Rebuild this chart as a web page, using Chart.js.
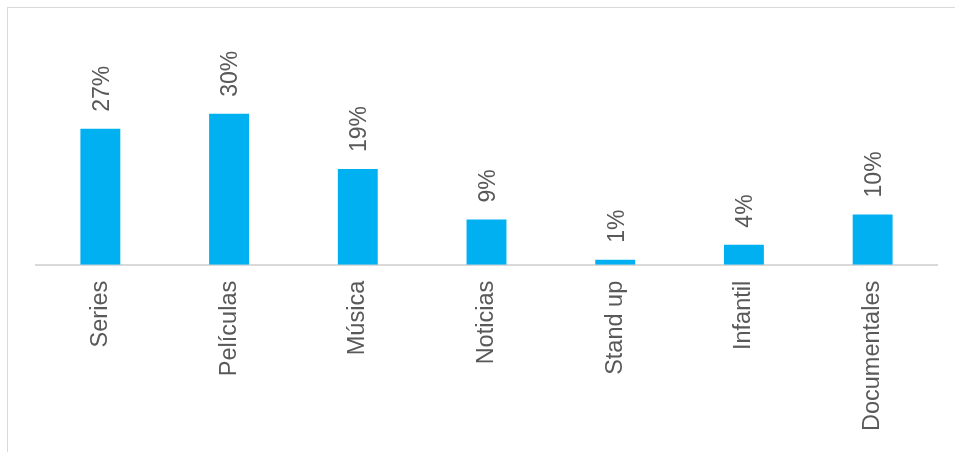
<!DOCTYPE html>
<html lang="es">
<head>
<meta charset="UTF-8">
<title>Contenido</title>
<script src="https://cdn.jsdelivr.net/npm/chart.js@4"></script>
<style>
  html, body { margin: 0; padding: 0; background: #fff; overflow: hidden; }
  #wrap { position: relative; width: 955px; height: 452px; }
  #frame { position: absolute; left: 7px; top: 7px; width: 960px; height: 460px; border: 1px solid #d9d9d9; box-sizing: border-box; }
  canvas { position: absolute; left: 0; top: 0; }
</style>
</head>
<body>
<div id="wrap">
  <div id="frame"></div>
  <canvas id="chart" width="955" height="452"></canvas>
</div>
<script>
const categories = ['Series', 'Películas', 'Música', 'Noticias', 'Stand up', 'Infantil', 'Documentales'];
const values = [27, 30, 19, 9, 1, 4, 10];

const textColor = '#595959';
const font = 'Liberation Sans, Arial, sans-serif';

// etiquetas de porcentaje giradas encima de cada barra
const barLabels = {
  id: 'barLabels',
  afterDatasetsDraw(chart) {
    const ctx = chart.ctx;
    const meta = chart.getDatasetMeta(0);
    ctx.save();
    ctx.fillStyle = textColor;
    ctx.font = '23px ' + font;
    ctx.textAlign = 'left';
    ctx.textBaseline = 'middle';
    meta.data.forEach((bar, i) => {
      ctx.save();
      ctx.translate(bar.x + 2, bar.y - 17);
      ctx.rotate(-Math.PI / 2);
      ctx.fillText(values[i] + '%', 0, 0);
      ctx.restore();
    });
    ctx.restore();
  }
};

new Chart(document.getElementById('chart'), {
  type: 'bar',
  data: {
    labels: categories,
    datasets: [{
      data: values,
      backgroundColor: '#00B0F0',
      categoryPercentage: 1,
      barPercentage: 0.31
    }]
  },
  options: {
    responsive: false,
    animation: false,
    layout: { padding: { left: 36, right: 18, top: 13, bottom: 5 } },
    plugins: { legend: { display: false }, tooltip: { enabled: false } },
    scales: {
      x: {
        grid: { display: false, drawTicks: false },
        border: { display: true, color: '#d9d9d9', width: 2 },
        ticks: {
          color: textColor,
          font: { family: font, size: 23.5 },
          minRotation: 90,
          maxRotation: 90,
          padding: 16,
          autoSkip: false
        }
      },
      y: {
        display: false,
        min: 0,
        max: 50
      }
    }
  },
  plugins: [barLabels]
});
</script>
</body>
</html>
